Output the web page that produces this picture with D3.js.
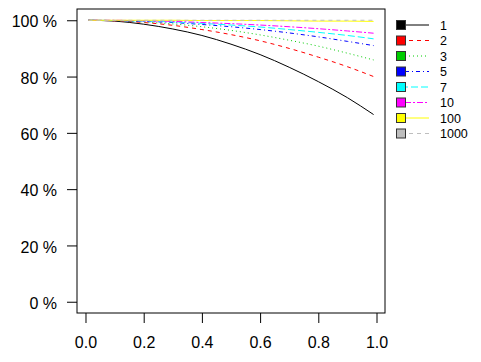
<!DOCTYPE html>
<html>
<head>
<meta charset="utf-8">
<script src="https://cdn.jsdelivr.net/npm/d3@7"></script>
<style>
  body { margin: 0; background: #fff; }
  text { font-family: "Liberation Sans", Arial, sans-serif; }
</style>
</head>
<body>
<div id="chart"></div>
<script>
// x positions of the sampled points
const xs = [0.01, 0.1, 0.2, 0.3, 0.4, 0.5, 0.6, 0.7, 0.8, 0.9, 0.99];

// series names as in the legend
const seriesNames = ["1", "2", "3", "5", "7", "10", "100", "1000"];

// values (fraction, 1 = 100 %)
const s1    = [1.000, 0.997, 0.986, 0.969, 0.946, 0.915, 0.878, 0.833, 0.782, 0.725, 0.665];
const s2    = [1.000, 0.998, 0.992, 0.982, 0.967, 0.949, 0.927, 0.900, 0.869, 0.835, 0.800];
const s3    = [1.000, 0.999, 0.994, 0.987, 0.977, 0.964, 0.948, 0.929, 0.908, 0.883, 0.859];
const s5    = [1.000, 0.999, 0.996, 0.992, 0.985, 0.977, 0.967, 0.955, 0.941, 0.925, 0.910];
const s7    = [1.000, 0.999, 0.997, 0.994, 0.989, 0.983, 0.976, 0.967, 0.957, 0.946, 0.934];
const s10   = [1.000, 1.000, 0.998, 0.996, 0.992, 0.988, 0.983, 0.977, 0.970, 0.962, 0.954];
const s100  = [1.000, 1.000, 1.000, 1.000, 0.999, 0.999, 0.999, 0.998, 0.997, 0.997, 0.996];
const s1000 = [1.000, 1.000, 1.000, 1.000, 1.000, 1.000, 1.000, 1.000, 1.000, 1.000, 1.000];

const seriesValues = [s1, s2, s3, s5, s7, s10, s100, s1000];

const xTicks = [0, 0.2, 0.4, 0.6, 0.8, 1.0];
const yTicks = [0, 0.2, 0.4, 0.6, 0.8, 1.0];

// R base palette and line types
const colors = ["#000000", "#FF0000", "#00CD00", "#0000FF", "#00FFFF", "#FF00FF", "#FFFF00", "#BEBEBE"];
const dashes = [null, "4,4", "1,3", "1,3,4,3", "7,3", "2,2,6,2", null, "4,4"];

const width = 481, height = 362;
const box = {left: 77, right: 385, top: 9, bottom: 313};

const svg = d3.select("#chart").append("svg")
  .attr("width", width)
  .attr("height", height);

// padded like R's default axis range (4% on each side)
const xScale = d3.scaleLinear()
  .domain([0.01 - 0.0392, 0.99 + 0.0392])
  .range([box.left, box.right]);

const yScale = d3.scaleLinear()
  .domain([-0.04, 1.04])
  .range([box.bottom, box.top]);

// lines
const line = d3.line()
  .x((d, i) => xScale(xs[i]))
  .y(d => yScale(d))
  .curve(d3.curveMonotoneX);

svg.append("g")
  .selectAll("path")
  .data(seriesValues)
  .join("path")
    .attr("d", d => line(d))
    .attr("fill", "none")
    .attr("stroke", (d, i) => colors[i])
    .attr("stroke-width", 1)
    .attr("stroke-dasharray", (d, i) => dashes[i]);

// box
svg.append("rect")
  .attr("x", box.left)
  .attr("y", box.top)
  .attr("width", box.right - box.left)
  .attr("height", box.bottom - box.top)
  .attr("fill", "none")
  .attr("stroke", "#000")
  .attr("stroke-width", 1);

// x axis
const xAxis = d3.axisBottom(xScale)
  .tickValues(xTicks)
  .tickFormat(d3.format(".1f"))
  .tickSize(10)
  .tickPadding(14);

const xAxisG = svg.append("g")
  .attr("transform", `translate(0,${box.bottom})`)
  .call(xAxis);
xAxisG.select(".domain").remove();
xAxisG.selectAll("text")
  .style("font-size", "16px")
  .style("font-family", "'Liberation Sans', Arial, sans-serif")
  .attr("fill", "#000");

// y axis
const yAxis = d3.axisLeft(yScale)
  .tickValues(yTicks)
  .tickFormat(d => Math.round(d * 100) + " %")
  .tickSize(10)
  .tickPadding(10);

const yAxisG = svg.append("g")
  .attr("transform", `translate(${box.left},0)`)
  .call(yAxis);
yAxisG.select(".domain").remove();
yAxisG.selectAll("text")
  .attr("dy", "0.42em")
  .style("font-size", "16px")
  .style("font-family", "'Liberation Sans', Arial, sans-serif")
  .attr("fill", "#000");

// legend
const legend = svg.append("g")
  .attr("transform", "translate(396,25)");

const rows = legend.selectAll("g")
  .data(seriesNames)
  .join("g")
    .attr("transform", (d, i) => `translate(0,${i * 15.5})`);

rows.append("line")
  .attr("x1", 5)
  .attr("x2", 33)
  .attr("y1", 0)
  .attr("y2", 0)
  .attr("stroke", (d, i) => colors[i])
  .attr("stroke-dasharray", (d, i) => dashes[i]);

rows.append("rect")
  .attr("x", 0.5)
  .attr("y", -4.5)
  .attr("width", 9)
  .attr("height", 9)
  .attr("fill", (d, i) => colors[i])
  .attr("stroke", "#333");

rows.append("text")
  .attr("x", 44)
  .attr("y", 0)
  .attr("dy", "0.36em")
  .style("font-size", "12.5px")
  .text(d => d);
</script>
</body>
</html>
